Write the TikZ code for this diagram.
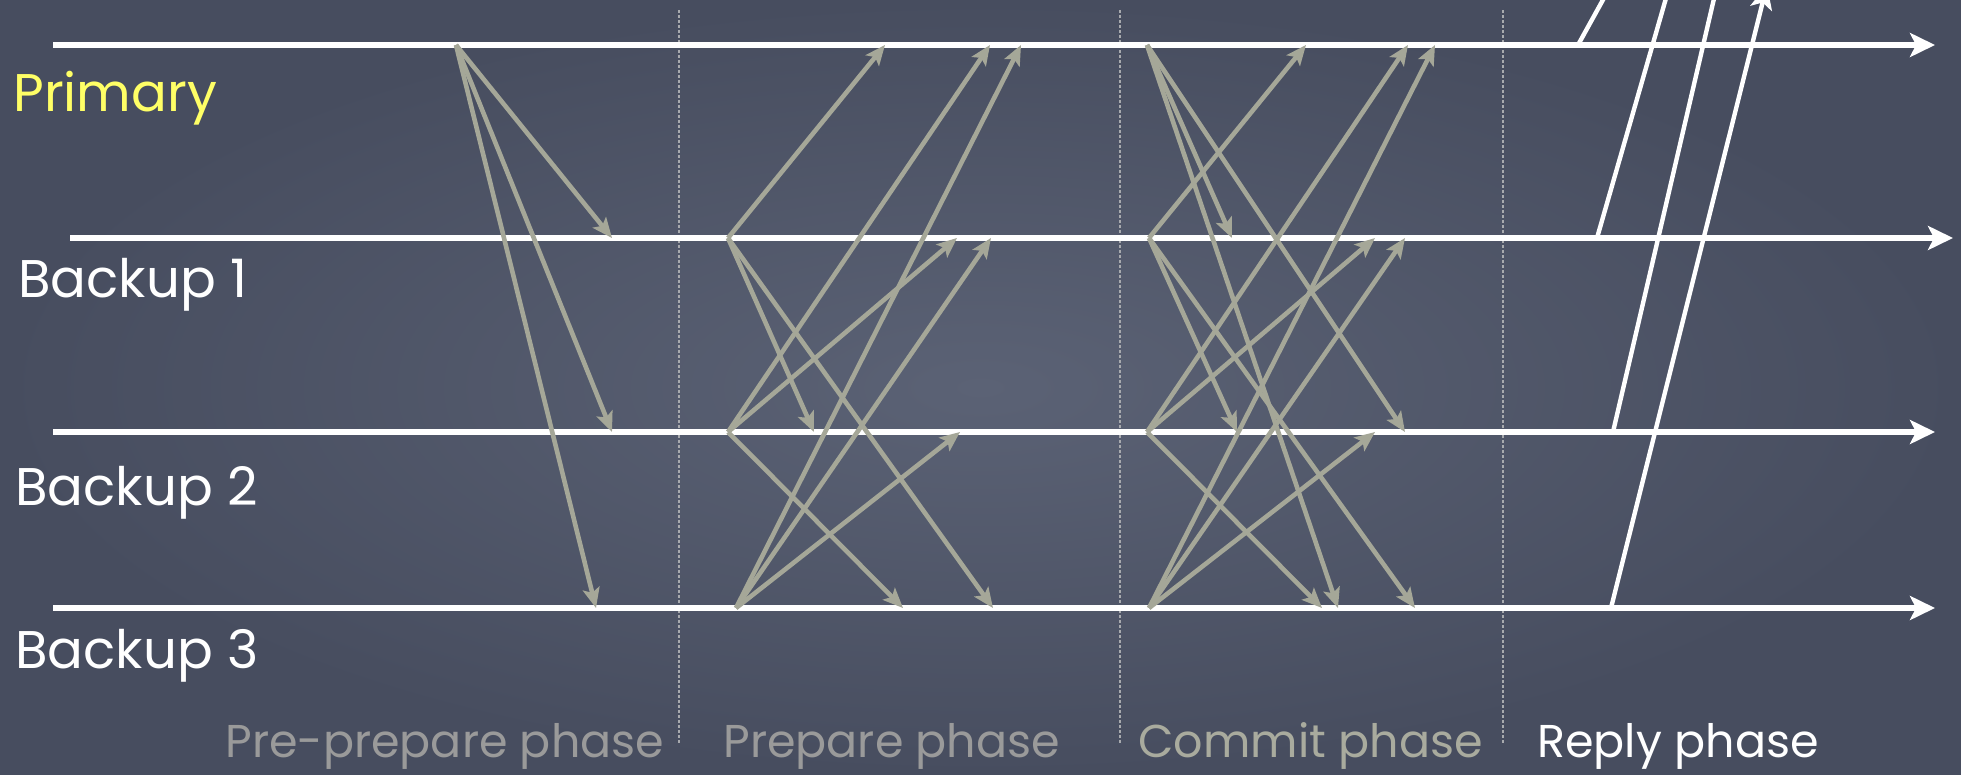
\documentclass[tikz,border=0pt]{standalone}
\usepackage{fontspec}
\setmainfont{Poppins}
\usetikzlibrary{arrows.meta}
\definecolor{bgin}{HTML}{5B6275}
\definecolor{bgout}{HTML}{474D5F}
\definecolor{msgc}{HTML}{A5A798}
\definecolor{sepc}{HTML}{A8AAAE}
\definecolor{phgray}{HTML}{9A9A9A}
\definecolor{phgreen}{HTML}{A9AB9E}
\definecolor{prim}{HTML}{FFFF66}
\tikzset{
  lane/.style={white, line width=2.7pt, -{Stealth[length=12.5pt,width=12pt,inset=3pt]}},
  msg/.style={msgc, line width=2.3pt, -{Stealth[length=10pt,width=8.5pt,inset=2.2pt]}},
  replyline/.style={white, line width=2.2pt},
  replyarrow/.style={white, line width=2.2pt, -{Stealth[length=12pt,width=11pt,inset=3pt]}},
  phasesep/.style={sepc, line width=1pt, dash pattern=on 1.5pt off 1pt},
  lanelabel/.style={anchor=base west, inner sep=0pt, text=white, font=\fontsize{26.5}{30}\selectfont},
  phaselabel/.style={anchor=base west, inner sep=0pt, font=\fontsize{23}{28}\selectfont}
}
\begin{document}
\begin{tikzpicture}[x=0.5pt,y=-0.5pt]
\useasboundingbox (0,0) rectangle (1961,775);
\shade[inner color=bgin, outer color=bgout] (0,0) rectangle (1961,775);

% phase separators
\foreach \xx/\nm in {679/s1,1120/s2,1503/s3}{
  \coordinate (\nm t) at (\xx,10);
  \coordinate (\nm b) at (\xx,745);
  \draw[phasesep] (\nm t) -- (\nm b);
}

% lanes
\coordinate (P0) at (53,45);   \coordinate (P1) at (1935,45);
\coordinate (B10) at (70,238); \coordinate (B11) at (1953,238);
\coordinate (B20) at (53,432); \coordinate (B21) at (1935,432);
\coordinate (B30) at (53,608); \coordinate (B31) at (1935,608);
\draw[lane] (P0) -- (P1);
\draw[lane] (B10) -- (B11);
\draw[lane] (B20) -- (B21);
\draw[lane] (B30) -- (B31);

% labels
\node[lanelabel, text=prim] (lp) at (13,112) {Primary};
\node[lanelabel] (lb1) at (18,298) {Backup 1};
\node[lanelabel] (lb2) at (15,505) {Backup 2};
\node[lanelabel] (lb3) at (15,668) {Backup 3};
\node[phaselabel, text=phgray] (ph1) at (225,757) {Pre-prepare phase};
\node[phaselabel, text=phgray] (ph2) at (723,757) {Prepare phase};
\node[phaselabel, text=phgreen] (ph3) at (1138,757) {Commit phase};
\node[phaselabel, text=white] (ph4) at (1537,757) {Reply phase};

% pre-prepare
\coordinate (pp) at (456,45);
\coordinate (pp1) at (612,238);
\coordinate (pp2) at (612,432);
\coordinate (pp3) at (596,608);
\draw[msg] (pp) -- (pp1);
\draw[msg] (pp) -- (pp2);
\draw[msg] (pp) -- (pp3);

% prepare
\coordinate (r1) at (728,238);
\coordinate (r1p) at (885,45);
\coordinate (r1b2) at (814,432);
\coordinate (r1b3) at (993,608);
\coordinate (r2) at (728,432);
\coordinate (r2p) at (990,45);
\coordinate (r2b1) at (957,238);
\coordinate (r2b3) at (903,608);
\coordinate (r3) at (736,608);
\coordinate (r3p) at (1021,45);
\coordinate (r3b1) at (991,238);
\coordinate (r3b2) at (960,432);
\foreach \s/\t in {r1/r1p,r1/r1b2,r1/r1b3,r2/r2p,r2/r2b1,r2/r2b3,r3/r3p,r3/r3b1,r3/r3b2}
  \draw[msg] (\s) -- (\t);

% commit
\coordinate (cp) at (1147,45);
\coordinate (cpb1) at (1232,238);
\coordinate (cpb2) at (1405,432);
\coordinate (cpb3) at (1338,608);
\coordinate (c1) at (1149,238);
\coordinate (c1p) at (1306,45);
\coordinate (c1b2) at (1237,432);
\coordinate (c1b3) at (1415,608);
\coordinate (c2) at (1147,432);
\coordinate (c2p) at (1408,45);
\coordinate (c2b1) at (1375,238);
\coordinate (c2b3) at (1322,608);
\coordinate (c3) at (1149,608);
\coordinate (c3p) at (1435,45);
\coordinate (c3b1) at (1405,238);
\coordinate (c3b2) at (1375,432);
\foreach \s/\t in {cp/cpb1,cp/cpb2,cp/cpb3,c1/c1p,c1/c1b2,c1/c1b3,c2/c2p,c2/c2b1,c2/c2b3,c3/c3p,c3/c3b1,c3/c3b2}
  \draw[msg] (\s) -- (\t);

% reply
\coordinate (y0) at (1578,45);
\coordinate (y0e) at (1625,-40);
\coordinate (y1) at (1597,238);
\coordinate (y1e) at (1677,-40);
\coordinate (y2) at (1613,432);
\coordinate (y2e) at (1723,-40);
\coordinate (y3) at (1611,608);
\coordinate (y3e) at (1767,-15);
\begin{scope}
  \clip (0,0) rectangle (1961,775);
  \draw[replyline] (y0) -- (y0e);
  \draw[replyline] (y1) -- (y1e);
  \draw[replyline] (y2) -- (y2e);
  \draw[replyarrow] (y3) -- (y3e);
\end{scope}
\end{tikzpicture}
\end{document}
